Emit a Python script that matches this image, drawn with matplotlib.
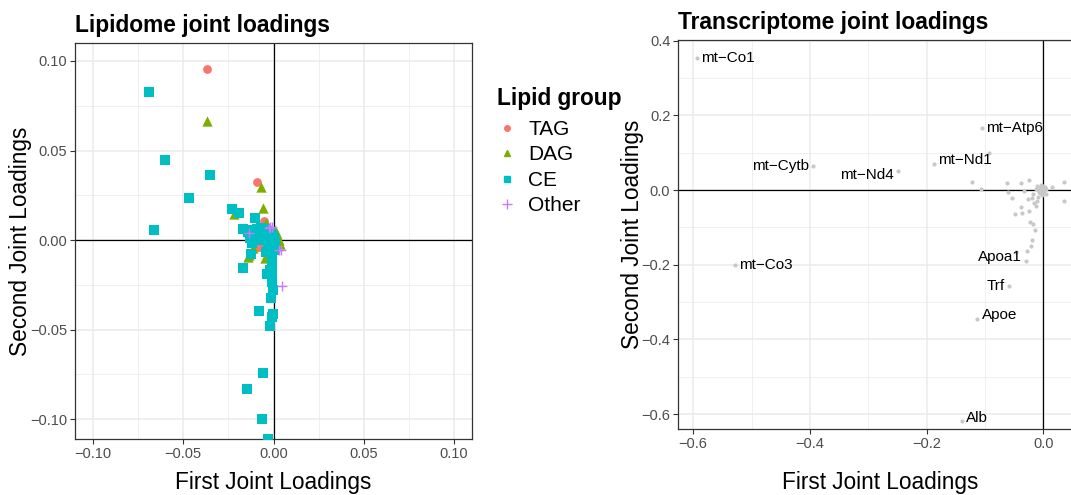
import numpy as np
import matplotlib
matplotlib.use("Agg")
import matplotlib.pyplot as plt
from matplotlib.lines import Line2D
from matplotlib.ticker import MultipleLocator

plt.rcParams['font.family'] = ['Liberation Sans', 'DejaVu Sans']

# lipidome joint loadings, by lipid group
tag_x = [-0.0368, -0.0089, -0.0054, -0.0082, -0.0080, 0.0020]
tag_y = [0.0954, 0.0324, 0.0106, -0.0041, -0.0037, -0.0020]

dag_x = [-0.0368, -0.0072, -0.0057, -0.0217, -0.0039, 0.0006, 0.0020, 0.0030,
         0.0011, -0.0115, -0.0137, -0.0044, -0.0141, -0.0048, 0.0035]
dag_y = [0.0665, 0.0294, 0.0177, 0.0143, 0.0093, 0.0056, 0.0034, 0.0000,
         0.0018, -0.0046, -0.0084, -0.0093, -0.0093, -0.0102, -0.0020]

ce_x = [-0.0691, -0.0600, -0.0350, -0.0467, -0.0661, -0.0228, -0.0189, -0.0100,
        -0.0167, -0.0122, -0.0168, -0.0035, -0.0007, -0.0013, -0.0078, -0.0002,
        -0.0007, -0.0022, -0.0057, -0.0146, -0.0063, -0.0030,
        -0.0139, -0.0117, -0.0094, -0.0072, -0.0050, -0.0028, -0.0011, 0.0000,
        0.0006, 0.0006, 0.0000, -0.0006, -0.0011, -0.0006, -0.0011, -0.0128,
        -0.0100, -0.0072, -0.0044, -0.0089, -0.0061, -0.0033, -0.0117, -0.0028,
        -0.0044, -0.0017, -0.0006, -0.0004]
ce_y = [0.0827, 0.0447, 0.0363, 0.0237, 0.0056, 0.0173, 0.0153, 0.0125,
        0.0061, -0.0080, -0.0155, -0.0190, -0.0233, -0.0322, -0.0395, -0.0410,
        -0.0428, -0.0479, -0.0741, -0.0829, -0.1000, -0.1108,
        0.0045, 0.0056, 0.0061, 0.0067, 0.0061, 0.0050, 0.0034, 0.0011,
        -0.0011, -0.0034, -0.0056, -0.0078, -0.0101, -0.0123, -0.0145, 0.0011,
        0.0022, 0.0034, 0.0022, 0.0000, 0.0000, -0.0011, -0.0017, -0.0045,
        -0.0067, -0.0168, -0.0201, -0.0280]

other_x = [-0.0137, -0.0026, -0.0011, -0.0017, 0.0029, 0.0043, 0.0048]
other_y = [0.0041, 0.0065, 0.0074, 0.0071, -0.0056, -0.0056, -0.0257]

# transcriptome joint loadings
gene_names = ['mt-Co1', 'mt-Cytb', 'mt-Nd4', 'mt-Nd1', 'mt-Atp6',
              'mt-Co3', 'Apoa1', 'Trf', 'Apoe', 'Alb']
gene_x = [-0.594, -0.394, -0.249, -0.187, -0.105, -0.529, -0.029, -0.0595, -0.113, -0.139]
gene_y = [0.354, 0.065, 0.051, 0.070, 0.167, -0.200, -0.191, -0.257, -0.345, -0.618]
gene_side = ['right', 'left', 'left', 'right', 'right',
             'right', 'left', 'left', 'right', 'right']
gene_dy = [0, 0, -3, 3, 0, 0, 3, 0, 3, 2]

rest_x = [-0.093, -0.122, -0.106, -0.063, -0.060, -0.053, -0.038, -0.024, -0.033,
          -0.026, -0.019, -0.038, -0.036, -0.049, -0.025, -0.012, -0.010, -0.022,
          -0.017, -0.014, -0.020, -0.021, -0.028, -0.047, -0.010, 0.015, 0.036,
          0.035, -0.018, 0.002, -0.016, -0.005, -0.008, 0.000, -0.003, 0.004,
          -0.012, -0.006, 0.001, -0.009, -0.004, 0.003, -0.002, -0.007, 0.005]
rest_y = [0.100, 0.021, 0.003, 0.018, -0.006, -0.021, 0.018, 0.026, -0.003,
          -0.023, -0.021, -0.046, -0.061, -0.065, -0.055, -0.043, -0.029, -0.085,
          -0.092, -0.107, -0.135, -0.149, -0.163, -0.166, 0.012, 0.009, 0.021,
          -0.028, -0.011, 0.002, -0.034, 0.006, -0.004, 0.010, -0.012, 0.003,
          0.004, -0.008, -0.006, -0.018, 0.014, 0.008, -0.002, 0.000, -0.010]

TAG_C, DAG_C, CE_C, OTHER_C = '#F8766D', '#7CAE00', '#00BFC4', '#C77CFF'
W, H = 1071, 495
MINUS = '\u2212'


def style_axes(ax, major, minor, xpad):
    ax.xaxis.set_major_locator(MultipleLocator(major[0]))
    ax.yaxis.set_major_locator(MultipleLocator(major[1]))
    ax.xaxis.set_minor_locator(MultipleLocator(minor[0]))
    ax.yaxis.set_minor_locator(MultipleLocator(minor[1]))
    ax.grid(which='major', color='#EBEBEB', lw=1.1, zorder=0)
    ax.grid(which='minor', color='#EBEBEB', lw=0.55, zorder=0)
    ax.set_axisbelow(True)
    ax.tick_params(which='major', length=3.5, width=0.8, color='#333333',
                   labelsize=10.5, labelcolor='#4D4D4D', pad=2)
    ax.tick_params(which='minor', length=0)
    for s in ax.spines.values():
        s.set_color('#333333')
        s.set_linewidth(0.9)
    ax.axhline(0, color='black', lw=0.9, zorder=1)
    ax.axvline(0, color='black', lw=0.9, zorder=1)
    ax.set_xlabel('First Joint Loadings', fontsize=16.3, labelpad=xpad)
    ax.set_ylabel('Second Joint Loadings', fontsize=16.3, labelpad=-1.5)


fig = plt.figure(figsize=(W / 100, H / 100), dpi=100)

ax1 = fig.add_axes([75 / W, (H - 439) / H, 397 / W, 396 / H])
style_axes(ax1, (0.05, 0.05), (0.025, 0.025), 7.5)
ax1.scatter(tag_x, tag_y, s=40, marker='o', color=TAG_C, lw=0, zorder=3)
ax1.scatter(dag_x, dag_y, s=55, marker='^', color=DAG_C, lw=0, zorder=3)
ax1.scatter(ce_x, ce_y, s=52, marker='s', color=CE_C, lw=0, zorder=3)
ax1.scatter(other_x, other_y, s=55, marker='+', color=OTHER_C, lw=1.0, zorder=4)
ax1.set_xlim(-0.11, 0.11)
ax1.set_ylim(-0.111, 0.11)
ax1.xaxis.set_major_formatter(lambda v, p: f'{v:.2f}'.replace('-', MINUS))
ax1.yaxis.set_major_formatter(lambda v, p: f'{v:.2f}'.replace('-', MINUS))
ax1.set_title('Lipidome joint loadings', loc='left', fontsize=16.4,
              fontweight='bold', pad=8)

# legend: title drawn on its own so the gap above the keys can be set
fig.text(497 / W, 1 - 98 / H, 'Lipid group', fontsize=16.3, fontweight='bold',
         ha='left', va='center')
handles = [Line2D([], [], ls='', marker='o', color=TAG_C, markersize=4),
           Line2D([], [], ls='', marker='^', color=DAG_C, markersize=5),
           Line2D([], [], ls='', marker='s', color=CE_C, markersize=4.5),
           Line2D([], [], ls='', marker='+', color=OTHER_C, markersize=7, mew=1)]
fig.legend(handles, ['TAG', 'DAG', 'CE', 'Other'],
           loc='upper left', bbox_to_anchor=(498 / W, 1 - 120 / H),
           frameon=False, fontsize=15, handlelength=0.9, handletextpad=0.55,
           labelspacing=0.31, borderaxespad=0, borderpad=0)

ax2 = fig.add_axes([678 / W, (H - 429) / H, 405 / W, 389 / H])
style_axes(ax2, (0.2, 0.2), (0.1, 0.1), 14.5)
ax2.scatter(rest_x, rest_y, s=9, color='#C8C8C8', lw=0, zorder=3)
ax2.scatter(gene_x, gene_y, s=9, color='#C8C8C8', lw=0, zorder=3)
for name, gx, gy, side, dy in zip(gene_names, gene_x, gene_y, gene_side, gene_dy):
    dx = 3 if side == 'right' else -3
    ax2.annotate(name.replace('-', MINUS), (gx, gy), xytext=(dx, dy),
                 textcoords='offset points',
                 ha='left' if side == 'right' else 'right', va='center',
                 fontsize=11, zorder=5)
ax2.set_xlim(-0.626, 0.068)
ax2.set_ylim(-0.64, 0.402)
ax2.xaxis.set_major_formatter(lambda v, p: f'{v:.1f}'.replace('-', MINUS))
ax2.yaxis.set_major_formatter(lambda v, p: f'{v:.1f}'.replace('-', MINUS))
ax2.set_title('Transcriptome joint loadings', loc='left', fontsize=16.4,
              fontweight='bold', pad=8)

fig.savefig('out.png', dpi=100)
